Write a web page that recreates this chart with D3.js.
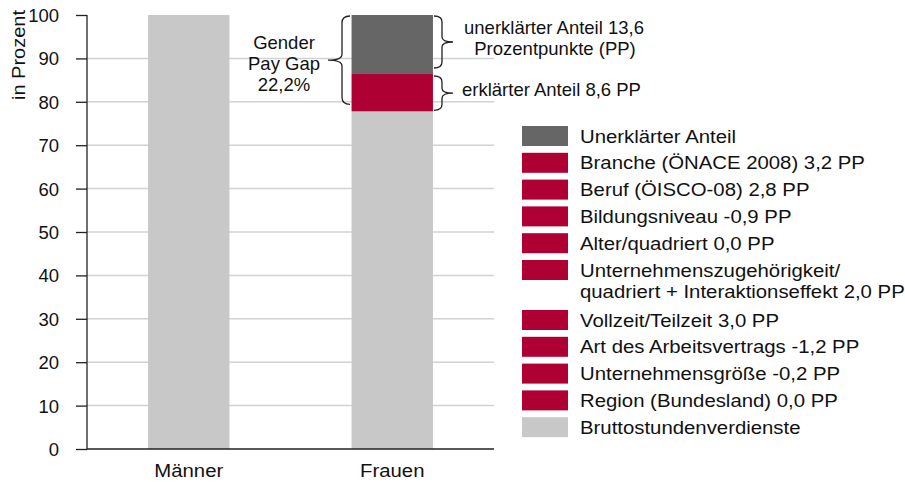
<!DOCTYPE html>
<html>
<head>
<meta charset="utf-8">
<script src="https://cdn.jsdelivr.net/npm/d3@7/dist/d3.min.js"></script>
<style>
  html, body { margin: 0; padding: 0; background: #fff; }
  svg text { font-family: "Liberation Sans", Arial, sans-serif; fill: #111; }
</style>
</head>
<body>
<div id="chart"></div>
<script>
// data
const categories = ['Männer', 'Frauen'];
const brutto = [100, 77.8];        // Bruttostundenverdienste
const erklaert = [0, 8.6];         // erklärter Anteil
const unerklaert = [0, 13.6];      // unerklärter Anteil
const yTicks = [0, 10, 20, 30, 40, 50, 60, 70, 80, 90, 100];

const legendLabels = [
  ['Unerklärter Anteil'],
  ['Branche (ÖNACE 2008) 3,2 PP'],
  ['Beruf (ÖISCO-08) 2,8 PP'],
  ['Bildungsniveau -0,9 PP'],
  ['Alter/quadriert 0,0 PP'],
  ['Unternehmenszugehörigkeit/', 'quadriert + Interaktionseffekt 2,0 PP'],
  ['Vollzeit/Teilzeit 3,0 PP'],
  ['Art des Arbeitsvertrags -1,2 PP'],
  ['Unternehmensgröße -0,2 PP'],
  ['Region (Bundesland) 0,0 PP'],
  ['Bruttostundenverdienste']
];
const legendKinds = ['unerklaert', 'erklaert', 'erklaert', 'erklaert', 'erklaert', 'erklaert',
  'erklaert', 'erklaert', 'erklaert', 'erklaert', 'brutto'];

const colors = { brutto: '#c8c8c8', erklaert: '#af0033', unerklaert: '#666666' };

const W = 905, H = 482;
const FS = 18.5;

const svg = d3.select('#chart').append('svg')
  .attr('width', W).attr('height', H);

const x = d3.scaleBand().domain(categories).range([87, 494]).paddingInner(0.6).paddingOuter(0.3);
const y = d3.scaleLinear().domain([0, 100]).range([449, 15]);

// legend and category text looks a bit stretched sideways, annotations don't
function label(g, tx, ty, str, anchor, sx) {
  return g.append('text')
    .attr('transform', `translate(${tx},${ty}) scale(${sx || 1},1)`)
    .attr('text-anchor', anchor || 'start')
    .style('font-size', FS + 'px')
    .text(str);
}

// grid
svg.append('g').selectAll('line')
  .data(yTicks.filter(d => d > 0 && d < 100))
  .join('line')
  .attr('x1', 87).attr('x2', 494)
  .attr('y1', d => y(d)).attr('y2', d => y(d))
  .attr('stroke', '#d2d2d2').attr('stroke-width', 1.5);

// stacked bars
const rows = categories.map((c, i) => ({ c, b: brutto[i], e: erklaert[i], u: unerklaert[i] }));
const bars = svg.append('g');
rows.forEach(r => {
  const segs = [
    { y0: 0, y1: r.b, k: 'brutto' },
    { y0: r.b, y1: r.b + r.e, k: 'erklaert' },
    { y0: r.b + r.e, y1: r.b + r.e + r.u, k: 'unerklaert' }
  ].filter(s => s.y1 > s.y0);
  bars.selectAll(null).data(segs).join('rect')
    .attr('x', x(r.c))
    .attr('width', x.bandwidth())
    .attr('y', s => y(s.y1))
    .attr('height', s => y(s.y0) - y(s.y1))
    .attr('fill', s => colors[s.k]);
});

// y axis
const yAxis = svg.append('g')
  .attr('transform', 'translate(87,0)')
  .call(d3.axisLeft(y).tickValues(yTicks).tickSize(11).tickPadding(17).tickFormat(d3.format('d')));
yAxis.select('.domain').attr('stroke', '#222').attr('stroke-width', 1.3).attr('d', `M0,${y(100)}V${y(0)}`);
yAxis.selectAll('.tick line').attr('stroke', '#222').attr('stroke-width', 1.3);
yAxis.selectAll('.tick text')
  .attr('font-family', null)
  .style('font-size', FS + 'px')
  .attr('dy', '0.35em');

// baseline
svg.append('line')
  .attr('x1', 87).attr('x2', 494).attr('y1', y(0)).attr('y2', y(0))
  .attr('stroke', '#222').attr('stroke-width', 1.5);

// category labels
categories.forEach(c => label(svg, x(c) + x.bandwidth() / 2, 477, c, 'middle', 1.1));

// y title
svg.append('text')
  .attr('transform', `translate(25,55) rotate(-90) scale(1.08,1)`)
  .attr('text-anchor', 'middle')
  .style('font-size', FS + 'px')
  .text('in Prozent');

// braces
const gapTop = y(brutto[1] + erklaert[1] + unerklaert[1]);
const splitY = y(brutto[1] + erklaert[1]);
const bruttoY = y(brutto[1]);

// left brace: total gap
(function () {
  const xo = 342, ya = gapTop + 1, yb = bruttoY - 7, ym = (ya + yb) / 2;
  const p = `M${xo + 8},${ya} Q${xo},${ya} ${xo},${ya + 7} L${xo},${ym - 6} Q${xo},${ym} ${xo - 14},${ym}
             Q${xo},${ym} ${xo},${ym + 6} L${xo},${yb - 7} Q${xo},${yb} ${xo + 8},${yb}`;
  svg.append('path').attr('d', p).attr('fill', 'none').attr('stroke', '#222').attr('stroke-width', 1.3);
})();
// right braces
function rbrace(ya, yb) {
  const xo = 442, ym = (ya + yb) / 2;
  const p = `M${xo - 8},${ya} Q${xo},${ya} ${xo},${ya + 6} L${xo},${ym - 5} Q${xo},${ym} ${xo + 11},${ym}
             Q${xo},${ym} ${xo},${ym + 5} L${xo},${yb - 6} Q${xo},${yb} ${xo - 8},${yb}`;
  svg.append('path').attr('d', p).attr('fill', 'none').attr('stroke', '#222').attr('stroke-width', 1.3);
}
rbrace(gapTop + 1, splitY - 6);
rbrace(splitY + 2, bruttoY - 1);

// annotations
label(svg, 284, 49, 'Gender', 'middle');
label(svg, 284, 70, 'Pay Gap', 'middle');
label(svg, 284, 91, '22,2%', 'middle');
label(svg, 554, 34, 'unerklärter Anteil 13,6', 'middle');
label(svg, 555, 55, 'Prozentpunkte (PP)', 'middle');
label(svg, 462, 96, 'erklärter Anteil 8,6 PP', 'start');

// legend
const lg = svg.append('g');
let ly = 126;
legendLabels.forEach((lines, i) => {
  lg.append('rect').attr('x', 522).attr('y', ly).attr('width', 46).attr('height', 20)
    .attr('fill', colors[legendKinds[i]]);
  lines.forEach((t, j) => label(lg, 580, ly + 16.5 + j * 21, t, 'start', 1.1));
  ly += 26.8 + (lines.length - 1) * 23.2;
});
</script>
</body>
</html>
